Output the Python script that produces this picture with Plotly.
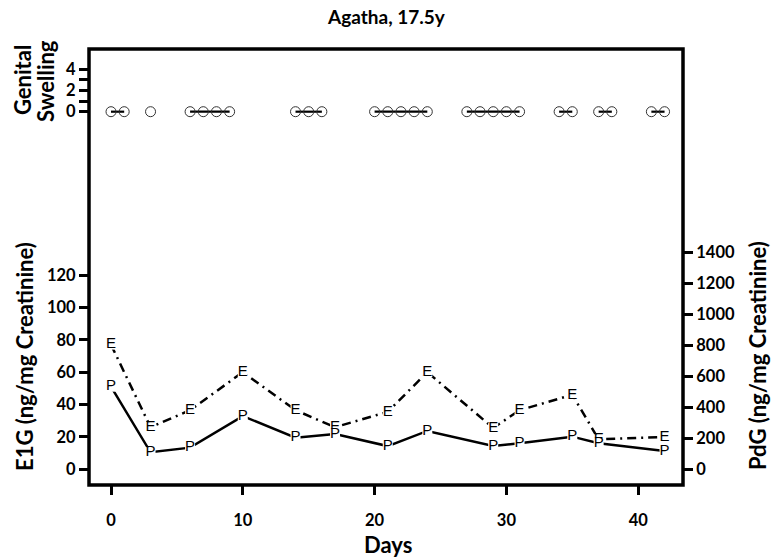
import plotly.graph_objects as go

# ---- data ----
gs_days = [0, 1, None, 3, None, 6, 7, 8, 9, None, 14, 15, 16, None, 20, 21, 22, 23, 24, None,
           27, 28, 29, 30, 31, None, 34, 35, None, 37, 38, None, 41, 42]
gs_vals = [0 if d is not None else None for d in gs_days]

horm_days = [0, 3, 6, 10, 14, 17, 21, 24, 29, 31, 35, 37, 42]
e1g = [77, 26, 36.5, 60, 36.5, 26, 35.5, 60, 25.5, 36.5, 46, 18.5, 20]
pdg = [534, 110, 140, 344, 204, 228, 150, 248, 150, 168, 211, 168, 118]

x_ticks = [0, 10, 20, 30, 40]
e1g_ticks = [0, 20, 40, 60, 80, 100, 120]
pdg_ticks = [0, 200, 400, 600, 800, 1000, 1200, 1400]
gs_ticks = [0, 1, 2, 3, 4]
gs_ticktext = ["0", "", "2", "", "4"]

FONT = "Lato"
tickfont = dict(family=FONT, size=16.5, color="black", weight="bold")
letterfont = dict(family="Liberation Sans", size=15, color="black")


def bold(vals):
    return [f"<b>{v}</b>" if str(v) != "" else "" for v in vals]


fig = go.Figure()

fig.add_trace(go.Scatter(
    x=horm_days, y=e1g, yaxis="y", mode="lines+markers+text",
    text=["E"] * len(horm_days), textposition="middle center", textfont=letterfont,
    line=dict(color="black", width=2.5, dash="9px,5px,2px,5px"),
    marker=dict(symbol="square", size=10, color="white", line=dict(width=0)),
    showlegend=False, cliponaxis=False))

fig.add_trace(go.Scatter(
    x=horm_days, y=pdg, yaxis="y2", mode="lines+markers+text",
    text=["P"] * len(horm_days), textposition="middle center", textfont=letterfont,
    line=dict(color="black", width=2.5),
    marker=dict(symbol="square", size=10, color="white", line=dict(width=0)),
    showlegend=False, cliponaxis=False))

fig.add_trace(go.Scatter(
    x=gs_days, y=gs_vals, yaxis="y3", mode="lines+markers",
    line=dict(color="black", width=2.2),
    marker=dict(symbol="circle-open", size=10, color="#333", line=dict(color="#333", width=1)),
    showlegend=False, connectgaps=False))

fig.update_layout(
    width=777, height=560,
    margin=dict(l=89, r=94, t=49, b=75),
    plot_bgcolor="white", paper_bgcolor="white",
    xaxis=dict(range=[-1.669, 43.40], tickvals=x_ticks, ticktext=bold(x_ticks),
               ticks="outside", ticklen=9,
               tickwidth=2.5, tickcolor="black", showgrid=False, zeroline=False,
               showline=False, tickfont=tickfont, ticklabelstandoff=11),
    yaxis=dict(range=[-9.70, 259.6], tickvals=e1g_ticks, ticktext=bold(e1g_ticks),
               ticks="outside", ticklen=9,
               tickwidth=2.5, tickcolor="black", showgrid=False, zeroline=False,
               showline=False, tickfont=tickfont),
    yaxis2=dict(range=[-101.5, 2716.7], tickvals=pdg_ticks, ticktext=bold(pdg_ticks),
                ticks="outside", ticklen=9,
                tickwidth=2.5, tickcolor="black", showgrid=False, zeroline=False,
                showline=False, tickfont=tickfont, overlaying="y", side="right", anchor="x"),
    yaxis3=dict(range=[-35.22, 5.915], tickvals=gs_ticks, ticktext=bold(gs_ticktext),
                ticks="outside", ticklen=9, tickwidth=2.5, tickcolor="black",
                showgrid=False, zeroline=False, showline=False, tickfont=tickfont,
                overlaying="y", side="left", anchor="x"),
    shapes=[dict(type="rect", xref="paper", yref="paper", x0=0, x1=1, y0=0, y1=1,
                 line=dict(color="black", width=3.5), layer="above")],
    annotations=[
        dict(text="<b>Agatha, 17.5y</b>", xref="paper", yref="paper", x=0.5, y=1.0734,
             showarrow=False, xanchor="center", yanchor="middle",
             font=dict(family=FONT, size=19, color="black")),
        dict(text="<b>Days</b>", xref="paper", yref="paper", x=0.503, y=-0.1376,
             showarrow=False, xanchor="center", yanchor="middle",
             font=dict(family=FONT, size=22, color="black")),
        dict(text="<b>E1G (ng/mg Creatinine)</b>", xref="paper", yref="paper", x=-0.1077, y=0.2936,
             showarrow=False, xanchor="center", yanchor="middle", textangle=-90,
             font=dict(family=FONT, size=22, color="black")),
        dict(text="<b>PdG (ng/mg Creatinine)</b>", xref="paper", yref="paper", x=1.1263, y=0.2959,
             showarrow=False, xanchor="center", yanchor="middle", textangle=-90,
             font=dict(family=FONT, size=22, color="black")),
        dict(text="<b>Genital</b>", xref="paper", yref="paper", x=(23 - 89) / 594, y=(485 - 80) / 436,
             showarrow=False, xanchor="center", yanchor="middle", textangle=-90,
             font=dict(family=FONT, size=22, color="black")),
        dict(text="<b>Swelling</b>", xref="paper", yref="paper", x=(45 - 89) / 594, y=(485 - 81) / 436,
             showarrow=False, xanchor="center", yanchor="middle", textangle=-90,
             font=dict(family=FONT, size=22, color="black")),
    ],
)

fig.write_html("out.html")
